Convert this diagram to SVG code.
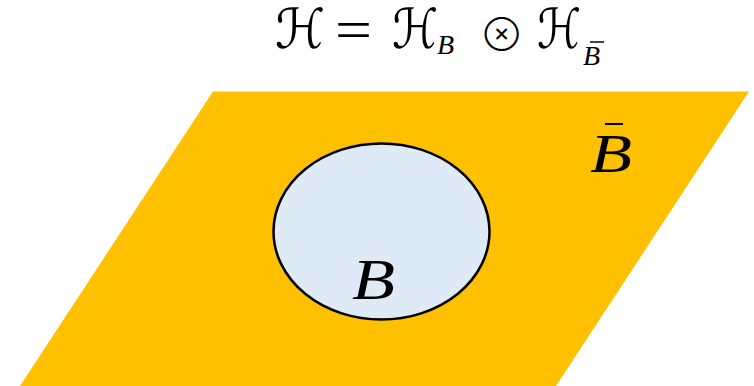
<svg xmlns="http://www.w3.org/2000/svg" width="754" height="386" viewBox="0 0 754 386">
<style>
.m{font-family:"Liberation Serif","DejaVu Serif",serif;font-style:italic;fill:#000}
.h{font-family:"DejaVu Sans",sans-serif;fill:#000;font-size:55px}
.r{font-family:"Liberation Serif","DejaVu Serif",serif;fill:#000}
.bar{stroke:#000;stroke-width:2}
</style>
<rect width="754" height="386" fill="#fff"/>
<g id="region-Bbar">
<polygon points="213,91.5 749,91.5 556,386 20,386" fill="#FFC000"/>
<text class="m" x="590" y="172" font-size="55" textLength="42" lengthAdjust="spacingAndGlyphs">B</text>
<line class="bar" x1="605" y1="124" x2="623" y2="124"/>
</g>
<g id="region-B">
<ellipse cx="381.5" cy="231.5" rx="108" ry="88" fill="#DEEBF7" stroke="#000" stroke-width="2.5"/>
<text class="m" x="352" y="299" font-size="58" textLength="43" lengthAdjust="spacingAndGlyphs">B</text>
</g>
<g id="title">
<text class="h" x="275" y="48" textLength="50" lengthAdjust="spacingAndGlyphs">ℋ</text>
<text class="r" x="335" y="49" font-size="58" textLength="37" lengthAdjust="spacingAndGlyphs">=</text>
<text class="h" x="392" y="48" textLength="46" lengthAdjust="spacingAndGlyphs">ℋ</text>
<text class="m" x="437" y="54" font-size="28">B</text>
<text x="501.5" y="42.5" font-family="Inter, 'Noto Sans CJK JP', sans-serif" font-size="25" text-anchor="middle" fill="#000">⊗</text>
<text class="h" x="537" y="48" textLength="44" lengthAdjust="spacingAndGlyphs">ℋ</text>
<text class="m" x="583" y="65" font-size="28">B</text>
<line x1="590" y1="42" x2="604" y2="42" stroke="#000" stroke-width="1.5"/>
</g>
</svg>
